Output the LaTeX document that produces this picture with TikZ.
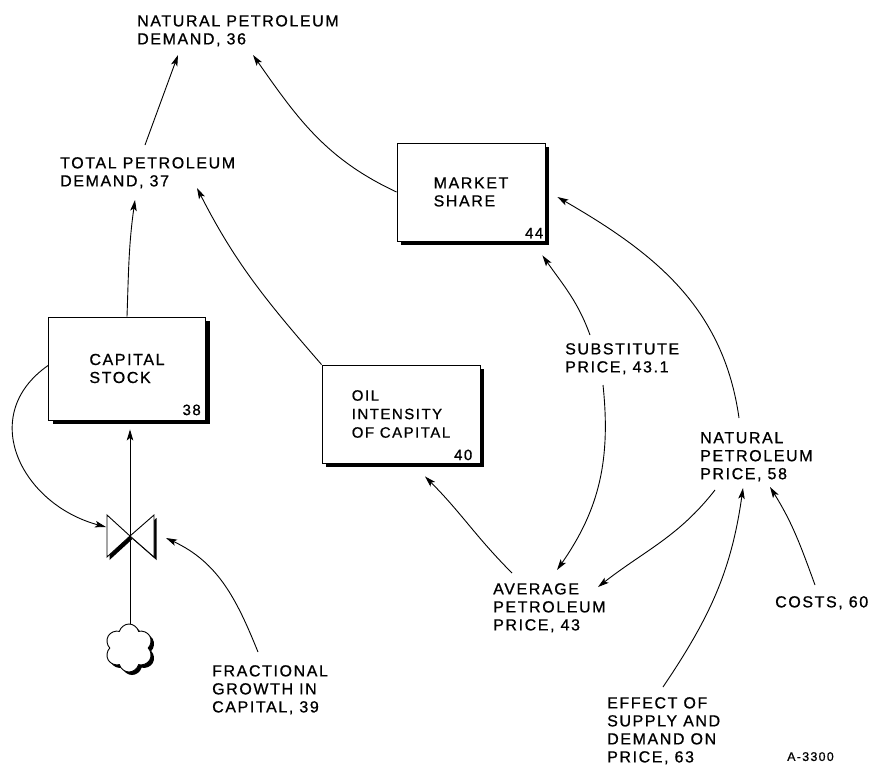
\documentclass[tikz,border=0pt]{standalone}
\usepackage{fontspec}
\usetikzlibrary{arrows.meta,calc,shadows,shapes.symbols}
\newfontfamily\lett{Liberation Sans}[LetterSpace=10,FakeBold=0.8]
\newcommand{\labfont}{\lett\fontsize{16}{18}\selectfont}
\newcommand{\boxsmallfont}{\lett\fontsize{15}{18.5}\selectfont}
\newcommand{\numfont}{\lett\fontsize{15}{16}\selectfont}
\newcommand{\smallfont}{\lett\fontsize{12.5}{14}\selectfont}
\tikzset{
  lab/.style={anchor=north west, inner sep=0pt, align=left, font=\labfont},
  num/.style={anchor=south east, inner sep=0pt, font=\numfont},
  levelbox/.style={draw, fill=white, line width=0.9pt, inner sep=0pt, align=left, font=\labfont,
    drop shadow={shadow xshift=4pt, shadow yshift=-4pt, opacity=1, fill=black}},
  link/.style={line width=0.9pt, -{Stealth[length=11pt,width=6.5pt,inset=2.5pt]}},
  flowline/.style={line width=0.9pt, -{Stealth[length=11pt,width=6.5pt,inset=2.5pt]}},
  valveshape/.style={draw, fill=white, line width=0.9pt,
    drop shadow={shadow xshift=2.5pt, shadow yshift=-3pt, opacity=1, fill=black}},
}
\begin{document}
\begin{tikzpicture}[x=1pt,y=1pt]
\useasboundingbox (0,0) rectangle (877,-768);

% text labels
\node[lab] (nd) at (137,-15) {NATURAL PETROLEUM\\DEMAND, 36};
\node[lab] (td) at (60,-157) {TOTAL PETROLEUM\\DEMAND, 37};
\node[lab] (fg) at (212,-665) {FRACTIONAL\\GROWTH IN\\CAPITAL, 39};
\node[lab] (sp) at (565,-343) {SUBSTITUTE\\PRICE, 43.1};
\node[lab] (np) at (700,-432) {NATURAL\\PETROLEUM\\PRICE, 58};
\node[lab] (ap) at (493,-583) {AVERAGE\\PETROLEUM\\PRICE, 43};
\node[lab] (co) at (775,-596) {COSTS, 60};
\node[lab] (es) at (607,-697) {EFFECT OF\\SUPPLY AND\\DEMAND ON\\PRICE, 63};
\node[anchor=north west, inner sep=0pt, font=\smallfont] (ref) at (787,-752) {A-3300};

% level boxes
\node[levelbox, minimum width=148pt, minimum height=98pt] (ms) at (471,-192) {MARKET\\SHARE};
\node[levelbox, minimum width=157pt, minimum height=103pt] (cs) at (127,-368.5) {CAPITAL\\STOCK};
\node[levelbox, font=\boxsmallfont, minimum width=158pt, minimum height=98pt] (oil) at (401,-414) {OIL\\INTENSITY\\OF CAPITAL};
\node[num] (msn) at ($(ms.south east)+(-2,3)$) {44};
\node[num] (csn) at ($(cs.south east)+(-5,5)$) {38};
\node[num] (oiln) at ($(oil.south east)+(-8,3)$) {40};

% cloud source and valve
\node[cloud, cloud puffs=6, cloud puff arc=150, aspect=1, minimum width=48pt, minimum height=48pt,
  draw, fill=white, line width=0.9pt, inner sep=0pt,
  drop shadow={shadow xshift=3pt, shadow yshift=-3pt, opacity=1, fill=black}] (src) at (129,-648) {};
\coordinate (v) at (130,-536);
\path[valveshape] (v) -- ++(-23,21) -- ++(0,-42) -- cycle;
\path[valveshape] (v) -- ++(24,21) -- ++(0,-42) -- cycle;

% flow
\draw[flowline] (src.north -| v) -- ($(cs.south)+(3,-9)$);

% information links
\draw[link] ($(td.north west)+(85,12)$) -- ($(nd.north west)+(41,-40)$);
\draw[link] (ms.west) to[out=155,in=-55] ($(nd.north west)+(116,-40)$);
\draw[link] (cs.north) to[out=88,in=-98] ($(td.north west)+(75,-43)$);
\draw[link] (oil.north west) to[out=131,in=-63] ($(td.north west)+(137,-31)$);
\draw[link] ($(cs.west)+(0,3)$) to[out=215,in=165,looseness=1.3] ($(v)+(-24,9)$);
\draw[link] ($(fg.north west)+(46,13)$) to[out=112,in=-25] ($(v)+(36,-2)$);
\draw[link] ($(sp.north west)+(25,8)$) to[out=110,in=-55] ($(ms.south east)+(-3,-14)$);
\draw[link] ($(sp.north west)+(38,-42)$) to[out=-84,in=55] ($(ap.north west)+(64,13)$);
\draw[link] ($(np.north west)+(39,14)$) to[out=98,in=-30] ($(ms.east)+(12,-5)$);
\draw[link] ($(np.north west)+(15,-58)$) to[out=-128,in=38] ($(ap.north west)+(105,-4)$);
\draw[link] ($(es.north west)+(56,10)$) to[out=56,in=-98] ($(np.north west)+(43,-56)$);
\draw[link] ($(co.north west)+(40,11)$) to[out=110,in=-58] ($(np.north west)+(70,-55)$);
\draw[link] ($(ap.north west)+(19,10)$) to[out=135,in=-45] ($(oil.south)+(24,-13)$);
\end{tikzpicture}
\end{document}
